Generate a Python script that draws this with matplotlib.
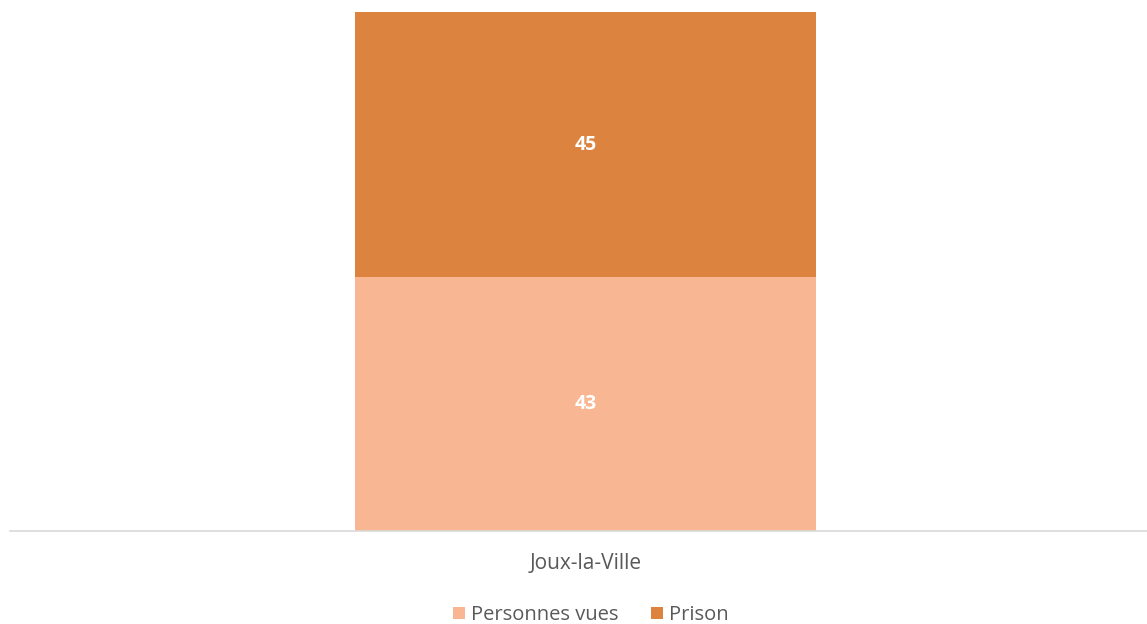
import matplotlib
matplotlib.use("Agg")
import matplotlib.pyplot as plt
from matplotlib.patches import Patch

categories = ["Joux-la-Ville"]
series_names = ["Personnes vues", "Prison"]
personnes_vues = [43]
prison = [45]
colors = ["#F8B692", "#DC833F"]

plt.rcParams['font.family'] = ['Open Sans', 'DejaVu Sans']

fig = plt.figure(figsize=(11.47, 6.24), dpi=100)
W, H = 1147, 624
ax = fig.add_axes([10 / W, (H - 531) / H, (W - 10) / W, (531 - 12) / H])

x = list(range(len(categories)))
width = 461 / 1137
b1 = ax.bar(x, personnes_vues, width, color=colors[0], zorder=2)
b2 = ax.bar(x, prison, width, bottom=personnes_vues, color=colors[1], zorder=2)

for bars, vals, bottoms in [(b1, personnes_vues, [0] * len(x)), (b2, prison, personnes_vues)]:
    for rect, v, b in zip(bars, vals, bottoms):
        ax.text(rect.get_x() + rect.get_width() / 2, b + v / 2, str(v),
                ha="center", va="center", color="white", fontsize=14, fontweight="bold")

ax.set_xlim(-575.5 / 1137, 561.5 / 1137)
ax.set_ylim(0, sum(personnes_vues) + sum(prison))
ax.set_xticks(x)
ax.set_xticklabels(categories, fontsize=15, color="#595959")
ax.tick_params(axis="x", length=0, pad=16)
ax.set_yticks([])
for s in ["top", "right", "left"]:
    ax.spines[s].set_visible(False)
ax.spines["bottom"].set_color("#D9D9D9")
ax.spines["bottom"].set_linewidth(1.2)
ax.spines["bottom"].set_zorder(3)

handles = [Patch(facecolor=c, label=n) for c, n in zip(colors, series_names)]
fig.legend(handles=handles, loc="center", bbox_to_anchor=(591 / W, 1 - 615 / H), ncol=2,
           frameon=False, fontsize=14.5, labelcolor="#595959", handlelength=0.6,
           handleheight=0.6, handletextpad=0.3, columnspacing=1.6)

fig.savefig("out.png", dpi=100)
